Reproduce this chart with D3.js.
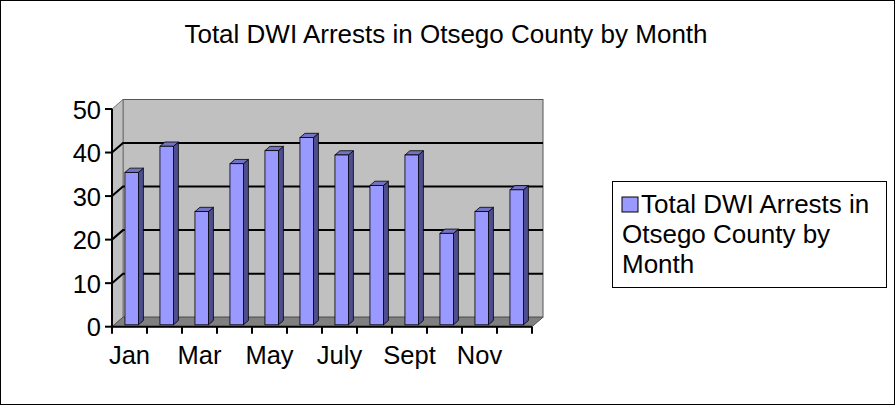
<!DOCTYPE html>
<html>
<head>
<meta charset="utf-8">
<script src="https://cdn.jsdelivr.net/npm/d3@7"></script>
<style>
  body { margin: 0; background: #fff; }
  text { font-family: "Liberation Sans", Arial, sans-serif; fill: #000; }
</style>
</head>
<body>
<script>
var width = 895, height = 405;

var months = ["Jan", "Feb", "Mar", "Apr", "May", "June", "July", "Aug", "Sept", "Oct", "Nov", "Dec"];
var arrests = [35, 41, 26, 37, 40, 43, 39, 32, 39, 21, 26, 31];
var yTicks = [0, 10, 20, 30, 40, 50];
var shownLabels = ["Jan", "Mar", "May", "July", "Sept", "Nov"];
var title = "Total DWI Arrests in Otsego County by Month";
var legendLines = ["Total DWI Arrests in", "Otsego County by", "Month"];

var svg = d3.select("body").append("svg")
    .attr("width", width)
    .attr("height", height);

// outer frame
svg.append("rect")
    .attr("x", 0.5).attr("y", 0.5)
    .attr("width", width - 1).attr("height", height - 1)
    .attr("fill", "#fff").attr("stroke", "#000");

svg.append("text")
    .attr("x", 446).attr("y", 42.5)
    .attr("text-anchor", "middle")
    .style("font-size", "26px")
    .text(title);

var x = d3.scaleBand().domain(months).range([112, 532]);
var y = d3.scaleLinear().domain([0, 50]).range([326.7, 109]);

// depth of the 3d box
var DX = 11, DY = -9.5;
var x0 = x.range()[0], x1 = x.range()[1];
var yb = y(0), yt = y(50);

function pts(a) { return a.map(function(p) { return p.join(","); }).join(" "); }

// back wall
svg.append("rect")
    .attr("x", x0 + DX).attr("y", yt + DY)
    .attr("width", x1 - x0).attr("height", yb - yt)
    .attr("fill", "#c0c0c0").attr("stroke", "#555").attr("stroke-width", 1);

// side wall
svg.append("polygon")
    .attr("points", pts([[x0, yb], [x0, yt], [x0 + DX, yt + DY], [x0 + DX, yb + DY]]))
    .attr("fill", "#c0c0c0").attr("stroke", "#777").attr("stroke-width", 1);

// floor
svg.append("polygon")
    .attr("points", pts([[x0, yb], [x1, yb], [x1 + DX, yb + DY], [x0 + DX, yb + DY]]))
    .attr("fill", "#808080").attr("stroke", "#555").attr("stroke-width", 1);

// gridlines
var grid = svg.append("g");
yTicks.filter(function(t) { return t > 0 && t < 50; }).forEach(function(t) {
    grid.append("polyline")
        .attr("points", pts([[x0, y(t)], [x0 + DX, y(t) + DY], [x1 + DX, y(t) + DY]]))
        .attr("fill", "none").attr("stroke", "#000").attr("stroke-width", 2);
});

// bars
var barW = 13.5, f0 = 0.2, f1 = 0.65;
var fx = DX * f0, fy = DY * f0;
var sx = DX * (f1 - f0), sy = DY * (f1 - f0);

var bars = svg.selectAll(".bar")
    .data(months.map(function(m, i) { return {m: m, v: arrests[i]}; }))
    .enter().append("g").attr("class", "bar");

bars.each(function(d) {
    var g = d3.select(this);
    var bx = x(d.m) + (x.bandwidth() - barW) / 2 + fx;
    var by = y(d.v) + fy;
    var bb = y(0) + fy;
    g.append("polygon")
        .attr("points", pts([[bx + barW, bb], [bx + barW, by], [bx + barW + sx, by + sy], [bx + barW + sx, bb + sy]]))
        .attr("fill", "#4d4d8f").attr("stroke", "#000").attr("stroke-width", 0.8);
    g.append("polygon")
        .attr("points", pts([[bx, by], [bx + barW, by], [bx + barW + sx, by + sy], [bx + sx, by + sy]]))
        .attr("fill", "#7373c4").attr("stroke", "#000").attr("stroke-width", 0.8);
    g.append("rect")
        .attr("x", bx).attr("y", by)
        .attr("width", barW).attr("height", bb - by)
        .attr("fill", "#9999ff").attr("stroke", "#000").attr("stroke-width", 0.8);
});

// axes
var axes = svg.append("g").attr("stroke", "#000").attr("stroke-width", 2);
axes.append("line").attr("x1", x0).attr("x2", x0).attr("y1", yt).attr("y2", yb);
axes.append("line").attr("x1", x0 - 1).attr("x2", x1).attr("y1", yb).attr("y2", yb);

yTicks.forEach(function(t) {
    axes.append("line").attr("x1", x0 - 7).attr("x2", x0).attr("y1", y(t)).attr("y2", y(t));
    svg.append("text")
        .attr("x", 101).attr("y", y(t) + 9.5)
        .attr("text-anchor", "end")
        .style("font-size", "25.5px")
        .text(t);
});

months.concat(["end"]).forEach(function(m, i) {
    var tx = x0 + i * x.step();
    axes.append("line").attr("x1", tx).attr("x2", tx).attr("y1", yb).attr("y2", yb + 7);
});

shownLabels.forEach(function(m) {
    svg.append("text")
        .attr("x", x(m) + x.bandwidth() / 2).attr("y", 364)
        .attr("text-anchor", "middle")
        .style("font-size", "25.5px")
        .text(m);
});

// legend
svg.append("rect")
    .attr("x", 612.5).attr("y", 181.5)
    .attr("width", 274).attr("height", 106)
    .attr("fill", "#fff").attr("stroke", "#000");
svg.append("rect")
    .attr("x", 622).attr("y", 197)
    .attr("width", 16).attr("height", 15)
    .attr("fill", "#9999ff").attr("stroke", "#000");
legendLines.forEach(function(l, i) {
    svg.append("text")
        .attr("x", i === 0 ? 641 : 622).attr("y", 213 + i * 30)
        .style("font-size", "26px")
        .text(l);
});
</script>
</body>
</html>
